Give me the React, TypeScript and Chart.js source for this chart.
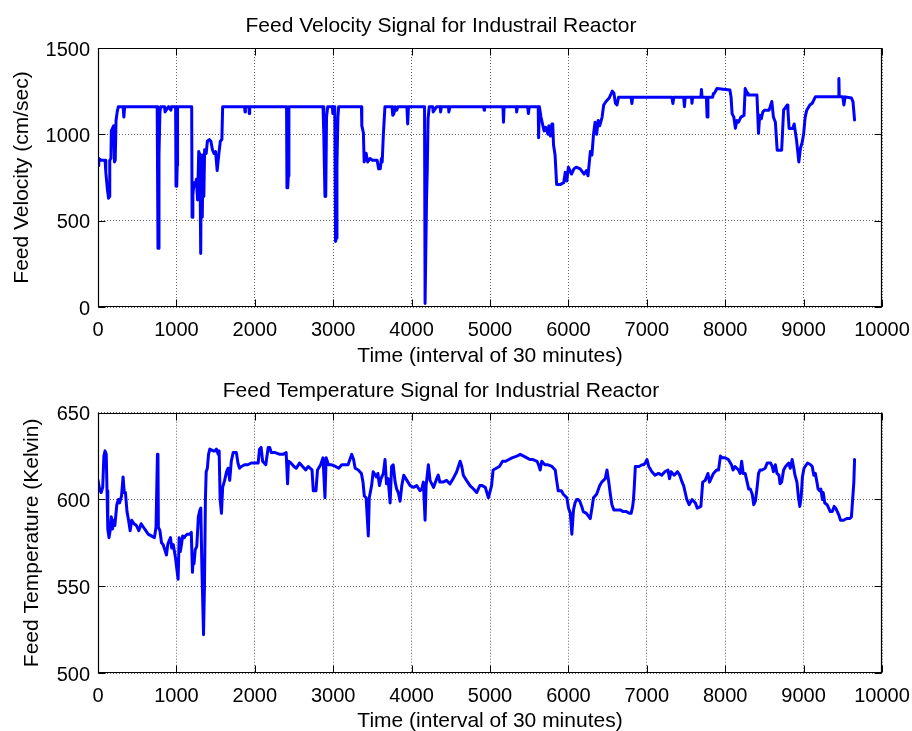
import React, { useEffect, useRef } from "react";
import { Chart, registerables } from "chart.js";

Chart.register(...registerables);

const FONT = '"Liberation Sans", Arial, Helvetica, sans-serif';

const xTickValues = [0, 1000, 2000, 3000, 4000, 5000, 6000, 7000, 8000, 9000, 10000];
const velocityTickValues = [0, 500, 1000, 1500];
const temperatureTickValues = [500, 550, 600, 650];

const velocityTitle = "Feed Velocity Signal for Industrail Reactor";
const temperatureTitle = "Feed Temperature Signal for Industrial Reactor";
const timeAxisLabel = "Time (interval of 30 minutes)";
const velocityAxisLabel = "Feed Velocity (cm/sec)";
const temperatureAxisLabel = "Feed Temperature (Kelvin)";

const velTime = [
  0, 10, 40, 90, 100, 120, 135, 145, 150, 165, 170, 190, 200, 210, 220, 230, 245, 260, 320, 330,
  340, 755, 765, 772, 778, 790, 800, 850, 855, 870, 900, 930, 935, 990, 995, 1005, 1010, 1015, 1195, 1200,
  1210, 1225, 1240, 1255, 1270, 1285, 1300, 1310, 1318, 1330, 1340, 1350, 1360, 1380, 1395, 1420, 1440, 1460, 1480, 1500,
  1520, 1540, 1560, 1580, 1590, 1870, 1875, 1880, 1925, 1930, 1935, 2405, 2410, 2420, 2428, 2435, 2870, 2880, 2895, 2905,
  2915, 2930, 2990, 2995, 3000, 3020, 3030, 3040, 3048, 3060, 3070, 3360, 3365, 3385, 3395, 3420, 3440, 3470, 3500, 3560,
  3580, 3600, 3615, 3625, 3640, 3660, 3750, 3760, 3775, 3790, 3810, 3825, 3940, 3950, 3960, 4165, 4172, 4180, 4190, 4200,
  4210, 4225, 4270, 4275, 4320, 4365, 4370, 4380, 4470, 4475, 4490, 4920, 4925, 4930, 5165, 5172, 5180, 5335, 5340, 5350,
  5480, 5490, 5500, 5615, 5620, 5630, 5650, 5670, 5690, 5710, 5740, 5750, 5770, 5790, 5800, 5810, 5830, 5850, 5900, 5940,
  5960, 5980, 6000, 6040, 6070, 6100, 6150, 6200, 6230, 6250, 6280, 6300, 6320, 6340, 6360, 6380, 6400, 6430, 6450, 6480,
  6520, 6560, 6580, 6600, 6620, 6640, 6800, 6810, 6820, 7320, 7333, 7345, 7470, 7480, 7490, 7570, 7576, 7585, 7690, 7697,
  7705, 7760, 7769, 7780, 7840, 7850, 7860, 7895, 8060, 8075, 8088, 8110, 8130, 8150, 8170, 8200, 8240, 8255, 8280, 8290,
  8405, 8425, 8440, 8460, 8480, 8500, 8560, 8595, 8615, 8640, 8663, 8720, 8730, 8745, 8790, 8800, 8815, 8860, 8880, 8910,
  8939, 8960, 8980, 9000, 9020, 9040, 9080, 9110, 9150, 9445, 9450, 9455, 9500, 9514, 9530, 9610, 9630, 9650
];
const velValue = [
  820, 860, 850, 850, 780, 680, 630, 640, 850, 860, 1020, 1040, 1050, 840, 850, 1080, 1130, 1160, 1160, 1100,
  1160, 1160, 340, 340, 880, 1130, 1160, 1160, 1130, 1140, 1160, 1140, 1160, 1160, 700, 710, 820, 1160, 1160, 520,
  650, 720, 700, 740, 620, 900, 880, 310, 880, 520, 880, 640, 910, 890, 960, 970, 960, 910, 890, 900,
  790, 880, 960, 970, 1160, 1160, 1130, 1160, 1160, 1120, 1160, 1160, 690, 690, 760, 1160, 1160, 1000, 640, 640,
  1100, 1160, 1160, 1120, 1160, 1160, 380, 400, 820, 1100, 1160, 1160, 1050, 1010, 840, 890, 840, 860, 850, 850,
  800, 800, 860, 840, 1000, 1160, 1160, 1110, 1120, 1160, 1140, 1160, 1160, 1060, 1160, 1160, 20, 20, 610, 800,
  1090, 1160, 1160, 1130, 1160, 1160, 1130, 1160, 1160, 1130, 1160, 1160, 1140, 1160, 1160, 1070, 1160, 1160, 1130, 1160,
  1160, 1120, 1160, 1160, 980, 1160, 1100, 1060, 1020, 1040, 1000, 1050, 990, 1060, 1060, 940, 880, 710, 710, 720,
  780, 730, 810, 770, 800, 810, 800, 770, 790, 760, 900, 880, 1000, 1070, 1000, 1080, 1050, 1100, 1170, 1190,
  1210, 1250, 1240, 1180, 1170, 1215, 1215, 1178, 1215, 1215, 1178, 1215, 1215, 1160, 1215, 1215, 1180, 1215, 1215, 1260,
  1215, 1215, 1100, 1215, 1215, 1237, 1237, 1265, 1257, 1215, 1120, 1100, 1035, 1080, 1070, 1100, 1110, 1265, 1240, 1228,
  1228, 1005, 1110, 1090, 1130, 1140, 1140, 1190, 1100, 1070, 908, 908, 1000, 1140, 1170, 1140, 1034, 1034, 1060, 966,
  840, 920, 950, 1000, 1100, 1140, 1170, 1180, 1217, 1217, 1324, 1217, 1217, 1170, 1217, 1210, 1190, 1083
];

const tempTime = [
  0, 20, 40, 60, 75, 90, 105, 115, 125, 140, 155, 170, 185, 200, 215, 240, 260, 275, 300, 320,
  335, 350, 370, 390, 410, 430, 460, 490, 520, 550, 580, 610, 640, 680, 720, 740, 758, 765, 770, 790,
  810, 830, 860, 873, 890, 905, 925, 940, 960, 990, 1005, 1022, 1035, 1050, 1065, 1080, 1100, 1115, 1140, 1170,
  1190, 1205, 1215, 1225, 1240, 1260, 1280, 1300, 1311, 1325, 1346, 1358, 1370, 1380, 1395, 1410, 1426, 1470, 1490, 1510,
  1535, 1545, 1558, 1575, 1590, 1615, 1640, 1660, 1680, 1700, 1724, 1765, 1785, 1805, 1830, 1870, 1910, 1955, 2000, 2043,
  2060, 2080, 2100, 2140, 2171, 2190, 2210, 2260, 2320, 2360, 2400, 2418, 2430, 2460, 2500, 2530, 2570, 2610, 2650, 2680,
  2730, 2746, 2780, 2800, 2840, 2870, 2895, 2910, 2940, 2980, 3030, 3070, 3110, 3150, 3190, 3236, 3260, 3280, 3320, 3360,
  3380, 3397, 3420, 3448, 3460, 3490, 3510, 3550, 3570, 3590, 3610, 3640, 3661, 3680, 3700, 3726, 3745, 3765, 3790, 3810,
  3830, 3853, 3875, 3900, 3940, 3980, 4025, 4065, 4108, 4130, 4150, 4172, 4185, 4214, 4235, 4280, 4320, 4340, 4360, 4400,
  4445, 4490, 4530, 4575, 4619, 4640, 4660, 4700, 4745, 4790, 4830, 4870, 4900, 4940, 4980, 5020, 5040, 5080, 5120, 5160,
  5200, 5240, 5280, 5343, 5385, 5430, 5470, 5510, 5550, 5600, 5620, 5640, 5660, 5700, 5740, 5790, 5832, 5850, 5870, 5910,
  5935, 5980, 6002, 6025, 6044, 6065, 6085, 6105, 6125, 6145, 6170, 6190, 6230, 6279, 6300, 6320, 6360, 6400, 6425, 6470,
  6492, 6512, 6535, 6555, 6580, 6620, 6660, 6700, 6740, 6781, 6800, 6820, 6830, 6840, 6854, 6900, 6940, 6960, 6980, 7003,
  7025, 7065, 7105, 7150, 7190, 7230, 7270, 7290, 7310, 7350, 7390, 7420, 7450, 7470, 7490, 7510, 7540, 7578, 7620, 7644,
  7690, 7713, 7745, 7780, 7800, 7830, 7850, 7870, 7890, 7915, 7939, 7960, 8000, 8040, 8080, 8100, 8125, 8170, 8190, 8210,
  8230, 8255, 8280, 8300, 8320, 8345, 8364, 8385, 8405, 8425, 8445, 8470, 8510, 8535, 8580, 8600, 8615, 8640, 8660, 8685,
  8700, 8720, 8745, 8770, 8810, 8830, 8854, 8875, 8890, 8915, 8935, 8952, 8970, 8985, 9005, 9050, 9090, 9110, 9130, 9150,
  9170, 9185, 9205, 9220, 9240, 9250, 9270, 9300, 9320, 9340, 9366, 9390, 9410, 9430, 9450, 9471, 9510, 9550, 9590, 9610,
  9641, 9650
];
const tempValue = [
  611, 606, 604, 607, 625, 628, 626, 605, 583, 578, 582, 590, 583, 588, 585, 597, 600, 598, 602, 613,
  604, 604, 593, 588, 582, 588, 586, 585, 582, 586, 584, 582, 580, 579, 578, 584, 626, 625, 584, 582,
  575, 574, 570, 568, 574, 576, 578, 572, 574, 566, 560, 554, 578, 570, 574, 579, 578, 579, 580, 580,
  581, 558, 567, 563, 571, 573, 590, 594, 595, 561, 522, 550, 600, 616, 618, 626, 629, 628, 628, 629,
  626, 628, 600, 592, 607, 611, 616, 618, 611, 622, 627, 627, 621, 618, 619, 620, 620, 621, 621, 621,
  629, 630, 622, 620, 630, 630, 627, 627, 626, 626, 627, 609, 622, 621, 619, 618, 621, 619, 617, 619,
  617, 605, 605, 617, 620, 624, 601, 624, 620, 620, 619, 618, 620, 620, 620, 626, 623, 618, 617, 615,
  610, 602, 601, 579, 601, 608, 616, 613, 615, 608, 612, 615, 623, 609, 612, 598, 619, 620, 610, 606,
  604, 599, 608, 614, 611, 608, 607, 608, 605, 606, 610, 588, 608, 620, 611, 607, 612, 614, 610, 610,
  611, 609, 612, 616, 622, 619, 614, 611, 608, 606, 604, 608, 608, 607, 601, 608, 617, 618, 619, 622,
  622, 623, 624, 625, 626, 625, 624, 623, 623, 622, 620, 617, 622, 620, 620, 619, 617, 611, 605, 605,
  603, 601, 595, 592, 580, 594, 598, 600, 600, 599, 596, 593, 592, 589, 595, 601, 603, 608, 610, 612,
  617, 611, 603, 597, 594, 594, 594, 593, 593, 592, 592, 596, 600, 607, 619, 619, 620, 620, 621, 623,
  619, 616, 614, 615, 614, 616, 617, 612, 616, 614, 616, 614, 610, 608, 604, 600, 597, 600, 598, 595,
  596, 610, 611, 615, 610, 613, 615, 616, 617, 617, 625, 624, 624, 623, 620, 617, 619, 617, 615, 622,
  615, 615, 610, 606, 606, 603, 597, 599, 606, 615, 617, 617, 618, 621, 621, 619, 616, 620, 615, 614,
  609, 610, 617, 619, 621, 618, 623, 618, 614, 610, 601, 596, 602, 613, 618, 621, 620, 619, 614, 615,
  610, 606, 605, 606, 600, 604, 598, 597, 595, 593, 593, 596, 595, 593, 591, 588, 588, 589, 589, 590,
  610, 623
];

type PanelProps = {
  top: number;
  height: number;
  times: number[];
  values: number[];
  yTicks: number[];
  title: string;
  yLabel: string;
  titlePad: { top: number; bottom: number };
  yTitlePad: number;
  xAxisHeight: number;
};

const framePlugin = {
  id: "matlabFrame",
  afterDraw(chart: any) {
    const { ctx, chartArea, scales } = chart;
    const left = Math.round(chartArea.left) + 0.5;
    const right = Math.round(chartArea.right) - 0.5;
    const top = Math.round(chartArea.top) + 0.5;
    const bottom = Math.round(chartArea.bottom) - 0.5;
    ctx.save();
    ctx.strokeStyle = "#000";
    ctx.lineWidth = 1.2;
    ctx.beginPath();
    ctx.moveTo(left, top);
    ctx.lineTo(right, top);
    ctx.lineTo(right, bottom);
    ctx.lineTo(left, bottom);
    ctx.closePath();
    ctx.stroke();
    const tl = 7;
    ctx.lineWidth = 1;
    ctx.beginPath();
    scales.x.ticks.forEach((t: any) => {
      const px = Math.round(scales.x.getPixelForValue(t.value)) + 0.5;
      ctx.moveTo(px, bottom);
      ctx.lineTo(px, bottom - tl);
      ctx.moveTo(px, top);
      ctx.lineTo(px, top + tl);
    });
    scales.y.ticks.forEach((t: any) => {
      const py = Math.round(scales.y.getPixelForValue(t.value)) + 0.5;
      ctx.moveTo(left, py);
      ctx.lineTo(left + tl, py);
      ctx.moveTo(right, py);
      ctx.lineTo(right - tl, py);
    });
    ctx.stroke();
    ctx.restore();
  },
};

function Panel(props: PanelProps) {
  const ref = useRef<HTMLCanvasElement | null>(null);
  useEffect(() => {
    if (!ref.current) return;
    const data = props.times.map((t, i) => ({ x: t, y: props.values[i] }));
    const yMin = props.yTicks[0];
    const yMax = props.yTicks[props.yTicks.length - 1];
    const chart = new Chart(ref.current, {
      type: "line",
      data: {
        datasets: [
          {
            data,
            borderColor: "#0000ff",
            borderWidth: 3,
            pointRadius: 0,
            fill: false,
            tension: 0,
            borderJoinStyle: "round",
            borderCapStyle: "round",
          },
        ],
      },
      plugins: [framePlugin],
      options: {
        responsive: false,
        animation: false,
        events: [],
        layout: { padding: { left: 0, right: 30, top: 0, bottom: 0 } },
        plugins: {
          legend: { display: false },
          tooltip: { enabled: false },
          title: {
            display: true,
            text: props.title,
            color: "#000",
            font: { family: FONT, size: 21, weight: "normal" },
            padding: props.titlePad,
          },
        },
        scales: {
          x: {
            type: "linear",
            min: 0,
            max: 10000,
            afterBuildTicks: (scale: any) => {
              scale.ticks = xTickValues.map((v) => ({ value: v }));
            },
            afterFit: (scale: any) => {
              scale.height = props.xAxisHeight;
              scale.paddingLeft = 0;
              scale.paddingRight = 0;
            },
            ticks: {
              autoSkip: false,
              maxRotation: 0,
              padding: 11,
              color: "#000",
              font: { family: FONT, size: 20 },
              callback: (v: any) => String(v),
            },
            grid: { color: "rgba(0,0,0,0.6)", lineWidth: 1, drawTicks: false },
            border: { display: false, dash: [1, 2] },
            title: {
              display: true,
              text: timeAxisLabel,
              color: "#000",
              font: { family: FONT, size: 21 },
              padding: { top: 0, bottom: -3 },
            },
          },
          y: {
            type: "linear",
            min: yMin,
            max: yMax,
            afterBuildTicks: (scale: any) => {
              scale.ticks = props.yTicks.map((v) => ({ value: v }));
            },
            afterFit: (scale: any) => {
              scale.width = 98;
              scale.paddingTop = 0;
              scale.paddingBottom = 0;
            },
            ticks: {
              padding: 8,
              labelOffset: 2,
              color: "#000",
              font: { family: FONT, size: 20 },
              callback: (v: any) => String(v),
            },
            grid: { color: "rgba(0,0,0,0.6)", lineWidth: 1, drawTicks: false },
            border: { display: false, dash: [1, 2] },
            title: {
              display: true,
              text: props.yLabel,
              color: "#000",
              font: { family: FONT, size: 21 },
              padding: { top: props.yTitlePad, bottom: 0 },
            },
          },
        },
      } as any,
    });
    return () => chart.destroy();
  }, []);
  return (
    <canvas
      ref={ref}
      width={912}
      height={props.height}
      style={{ position: "absolute", left: 0, top: props.top, width: 912, height: props.height }}
    />
  );
}

export default function App() {
  return (
    <div style={{ position: "fixed", left: 0, top: 0, width: 912, height: 731, background: "#fff", overflow: "hidden" }}>
      <Panel
        top={0}
        height={366}
        times={velTime}
        values={velValue}
        yTicks={velocityTickValues}
        title={velocityTitle}
        yLabel={velocityAxisLabel}
        titlePad={{ top: 14, bottom: 8.8 }}
        yTitlePad={9.4}
        xAxisHeight={59}
      />
      <Panel
        top={366}
        height={365}
        times={tempTime}
        values={tempValue}
        yTicks={temperatureTickValues}
        title={temperatureTitle}
        yLabel={temperatureAxisLabel}
        titlePad={{ top: 12.4, bottom: 9.1 }}
        yTitlePad={20}
        xAxisHeight={58}
      />
    </div>
  );
}
